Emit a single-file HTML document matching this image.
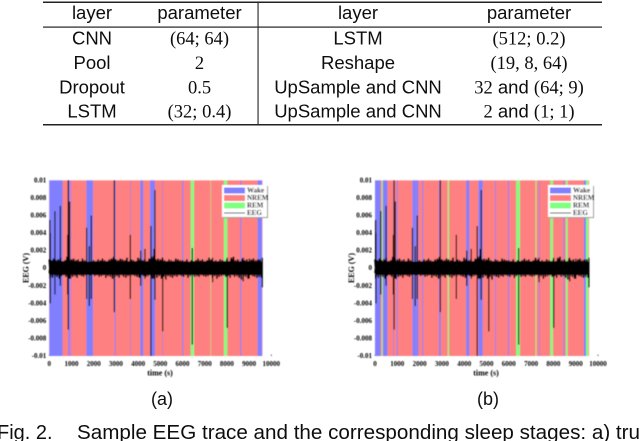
<!DOCTYPE html>
<html>
<head>
<meta charset="utf-8">
<title>Sample EEG trace and sleep stages</title>
<style>
html,body{margin:0;padding:0;background:#fff;width:640px;height:441px;overflow:hidden}
svg{display:block}
.sans{font-family:"Liberation Sans",sans-serif;fill:#111}
.serif{font-family:"Liberation Serif",serif;fill:#111}
.cell{font-size:18.5px;text-anchor:middle}
.tick{font-family:"Liberation Serif",serif;font-size:7px;font-weight:bold;fill:#000}
.title{font-size:8px}
</style>
</head>
<body>
<svg id="page" xmlns="http://www.w3.org/2000/svg" width="640" height="441" viewBox="0 0 640 441">
<defs>
<filter id="soft" x="-5%" y="-5%" width="110%" height="110%"><feGaussianBlur stdDeviation="0.4"/></filter>
<filter id="softer" x="-5%" y="-5%" width="110%" height="110%"><feGaussianBlur stdDeviation="0.3"/></filter>
</defs>
<g filter="url(#softer)">
<rect x="43" y="1.5" width="559" height="1.5" fill="#222"/>
<rect x="43" y="26.5" width="559" height="1.2" fill="#222"/>
<rect x="43" y="124" width="559" height="1.5" fill="#222"/>
<rect x="257.5" y="2" width="1.1" height="122" fill="#222"/>
<text class="sans cell" x="92" y="19">layer</text>
<text class="sans cell" x="199.5" y="19">parameter</text>
<text class="sans cell" x="358" y="19">layer</text>
<text class="sans cell" x="529" y="19">parameter</text>
<text class="sans cell" x="92" y="44.5">CNN</text>
<text class="serif cell" x="199.5" y="44.5">(64; 64)</text>
<text class="sans cell" x="358" y="44.5">LSTM</text>
<text class="serif cell" x="529" y="44.5">(512; 0.2)</text>
<text class="sans cell" x="92" y="69">Pool</text>
<text class="serif cell" x="199.5" y="69">2</text>
<text class="sans cell" x="358" y="69">Reshape</text>
<text class="serif cell" x="529" y="69">(19, 8, 64)</text>
<text class="sans cell" x="92" y="93.5">Dropout</text>
<text class="serif cell" x="199.5" y="93.5">0.5</text>
<text class="sans cell" x="358" y="93.5">UpSample and CNN</text>
<text class="cell" x="529" y="93.5"><tspan class="serif">32</tspan><tspan class="sans"> and </tspan><tspan class="serif">(64; 9)</tspan></text>
<text class="sans cell" x="92" y="117.5">LSTM</text>
<text class="serif cell" x="199.5" y="117.5">(32; 0.4)</text>
<text class="sans cell" x="358" y="117.5">UpSample and CNN</text>
<text class="cell" x="529" y="117.5"><tspan class="serif">2</tspan><tspan class="sans"> and </tspan><tspan class="serif">(1; 1)</tspan></text>
</g>
<g id="chart-a" filter="url(#soft)"></g>
<g id="chart-b" filter="url(#soft)"></g>
<g filter="url(#softer)">
<text class="sans" font-size="18" text-anchor="middle" x="162" y="405">(a)</text>
<text class="sans" font-size="18" text-anchor="middle" x="488" y="405">(b)</text>
<text class="sans" font-size="20" x="-3" y="439">Fig. 2.</text>
<text class="sans" font-size="20" x="77" y="439" textLength="563" lengthAdjust="spacingAndGlyphs">Sample EEG trace and the corresponding sleep stages: a) tru</text>
</g>
</svg>
<script>
// Shared EEG trace: envelope per 100 s bin, in millivolts
const eegUpper = [1.0,0.9,1.1,0.9,1.0,1.2,0.8,0.9,1.3,1.2,1.0,1.1,0.9,1.0,0.8,1.1,0.9,0.7,0.7,0.8,0.9,0.8,1.0,0.9,1.1,0.9,0.8,1.0,1.1,1.3,1.0,0.9,1.1,1.0,0.9,1.2,0.8,1.0,0.9,0.8,1.2,1.1,0.9,1.0,0.8,1.1,1.3,1.4,1.0,1.1,1.0,1.2,0.9,0.8,1.0,0.9,0.8,1.1,1.0,0.9,0.9,0.8,1.0,0.7,0.9,0.8,0.9,1.1,0.9,1.0,0.8,0.9,1.2,1.0,0.8,0.9,0.8,1.0,0.9,0.8,1.0,0.8,1.2,1.3,0.9,1.0,0.8,1.1,0.9,1.0,0.8,1.0,1.1,0.9,1.0,1.0];
const eegLower = [-1.0,-1.1,-0.9,-1.0,-1.2,-0.9,-0.8,-1.0,-1.1,-1.2,-1.0,-0.9,-1.1,-0.8,-0.9,-1.0,-0.8,-0.7,-0.8,-0.7,-0.9,-0.8,-1.0,-0.9,-0.8,-1.1,-0.9,-1.0,-1.2,-1.0,-0.9,-1.1,-0.8,-1.0,-1.1,-0.9,-1.0,-0.8,-0.9,-1.0,-1.1,-0.8,-0.9,-1.0,-0.9,-0.8,-1.2,-1.0,-1.1,-0.9,-1.2,-1.0,-1.3,-0.9,-1.0,-1.1,-0.9,-1.0,-0.8,-0.9,-1.0,-0.8,-1.1,-0.9,-0.8,-1.0,-0.9,-1.0,-0.8,-0.9,-1.0,-0.9,-0.8,-1.1,-0.9,-1.2,-1.0,-0.9,-0.8,-1.0,-0.9,-1.1,-0.8,-1.0,-0.9,-1.1,-1.3,-0.9,-1.0,-1.2,-0.8,-0.9,-1.0,-1.1,-1.0,-1.1];

// Large excursions of the trace: time (s), peak and trough (mV)
const spikeTimes = [30,45,255,495,825,855,915,1680,1800,1890,2930,3650,4115,4310,4580,4716,4760,5106,6441,7356,8016,8736,9006,9591];
const spikeUpper = [5.5,4.0,6.5,7.1,3.8,10,7.6,4.6,2.5,6.0,10,3.8,2.0,2.2,4.8,2.2,8.9,1.2,2.3,1.2,1.2,1.2,1.1,1.2];
const spikeLower = [-1.2,-4.0,-3.0,-2.0,-3.0,-7.0,-1.2,-3.5,-4.3,-3.5,-5.0,-3.5,-2.0,-1.2,-10,-1.2,-3.6,-7.2,-8.7,-1.6,-6.8,-1.5,-1.2,-2.2];

// Sleep stages: segments overlaying NREM background. 0 = Wake, 2 = REM
const stagesAStart = [0,855,975,1670,2945,3650,4100,4536,5090,5990,6370,7260,7866,8600,9380];
const stagesAEnd = [600,930,1000,1970,2990,3675,4230,4760,5115,6040,6520,7280,8016,8650,9580];
const stagesAKind = [0,0,0,0,0,0,0,0,0,0,2,2,2,0,0];

const stagesBStart = [0,300,360,820,975,1680,1850,2120,2870,3260,4090,4640,5390,5960,6330,7200,7360,7860,8450,8560,9370,9460];
const stagesBEnd = [250,345,560,850,1020,1840,1950,2165,2950,3320,4230,4830,5430,6010,6500,7240,7395,7980,8495,8640,9460,9570];
const stagesBKind = [0,2,0,0,0,0,0,0,0,2,0,0,0,0,2,2,0,2,0,2,0,2];

// Axis ticks and legend
const xTicks = [0,1000,2000,3000,4000,5000,6000,7000,8000,9000,10000];
const yTicks = [0.01,0.008,0.006,0.004,0.002,0,-0.002,-0.004,-0.006,-0.008,-0.01];
const yTickLabels = ['0.01','0.008','0.006','0.004','0.002','0','-0.002','-0.004','-0.006','-0.008','-0.01'];
const legendLabels = ['Wake','NREM','REM','EEG'];
const stageColors = ['#8080ff','#ff8080','#80ff80'];
const binSeconds = 100;
const endSeconds = 9600;

const SVGNS = 'http://www.w3.org/2000/svg';
function mk(parent, tag, attrs){
  const el = document.createElementNS(SVGNS, tag);
  for (const k in attrs) el.setAttribute(k, attrs[k]);
  parent.appendChild(el);
  return el;
}
function drawChart(rootId, x0, pxPer1000, starts, ends, kinds, legendX, labelX){
  const root = document.getElementById(rootId);
  const xScale = t => x0 + t * pxPer1000 / 1000;
  const yScale = v => 268.2 - v * 8780;

  xTicks.forEach(function(t){
    const tick = mk(root, 'line', {x1:xScale(t), x2:xScale(t), y1:354.5, y2:356, stroke:'#000', 'stroke-width':0.6});
    
    
    const lab = mk(root, 'text', {x:xScale(t), y:366, 'text-anchor':'middle', class:'tick'});
    
    
    lab.textContent = String(t);
  });
  yTicks.forEach(function(v, i){
    const lab = mk(root, 'text', {x:x0 - 3, y:yScale(v) + 2, 'text-anchor':'end', class:'tick'});
    
    
    lab.textContent = yTickLabels[i];
  });

  const bg = mk(root, 'rect', {x:xScale(0), y:yScale(0.01), width:xScale(endSeconds) - xScale(0), height:yScale(-0.01) - yScale(0.01), fill:stageColors[1]});
  
  
  starts.forEach(function(s, i){
    const seg = mk(root, 'rect', {x:xScale(s), y:yScale(0.01), width:xScale(ends[i]) - xScale(s), height:yScale(-0.01) - yScale(0.01), fill:stageColors[kinds[i]]});
    
    
  });

  let d = '';
  eegUpper.forEach(function(u, i){
    const x = xScale(i * binSeconds);
    const xm = xScale((i + 0.5) * binSeconds);
    d += (i ? 'L' : 'M') + x.toFixed(2) + ' ' + yScale(u / 1000).toFixed(2);
    d += 'L' + xm.toFixed(2) + ' ' + yScale(eegLower[i] / 1000).toFixed(2);
    d += 'L' + xm.toFixed(2) + ' ' + yScale(0.55 * u / 1000).toFixed(2);
    d += 'L' + x.toFixed(2) + ' ' + yScale(0.55 * eegLower[i] / 1000).toFixed(2);
  });
  const trace = mk(root, 'path', {d:d, fill:'none', stroke:'#000', 'stroke-width':1.6});
  
  
  const core = mk(root, 'rect', {x:xScale(0), y:yScale(0.00075), width:xScale(endSeconds) - xScale(0), height:yScale(-0.00075) - yScale(0.00075), fill:'#000'});
  
  
  spikeTimes.forEach(function(t, i){
    const sp = mk(root, 'line', {x1:xScale(t), x2:xScale(t), y1:yScale(spikeUpper[i] / 1000), y2:yScale(spikeLower[i] / 1000), stroke:'#000', 'stroke-width':1.2});
    
    
  });

  const shadow = mk(root, 'rect', {x:legendX + 1, y:186, width:45, height:32, fill:'#999'});
  
  
  const box = mk(root, 'rect', {x:legendX, y:185, width:45, height:32, fill:'#fff'});
  
  
  legendLabels.forEach(function(name, i){
    const rowY = 190.5 + i * 7.5;
    if (i < 3) {
      const patch = mk(root, 'rect', {x:legendX + 2, y:rowY - 3, width:21, height:6, fill:stageColors[i]});
      
      
    } else {
      const ln = mk(root, 'line', {x1:legendX + 2, x2:legendX + 23, y1:rowY, y2:rowY, stroke:'#000', 'stroke-width':0.8});
      
      
    }
    const lab = mk(root, 'text', {x:legendX + 25, y:rowY + 2, class:'tick'});
    
    
    lab.textContent = name;
  });

  const xt = mk(root, 'text', {x:labelX, y:375.5, 'text-anchor':'middle', class:'tick title'});
  
  
  xt.textContent = 'time (s)';
  const yx = x0 - 21;
  const yt = mk(root, 'text', {x:yx, y:268, 'text-anchor':'middle', class:'tick title', transform:'rotate(-90 ' + yx + ' 268)'});
  
  
  yt.textContent = 'EEG (V)';
}
drawChart('chart-a', 49.3, 22.2, stagesAStart, stagesAEnd, stagesAKind, 222, 160);
drawChart('chart-b', 375, 22.3, stagesBStart, stagesBEnd, stagesBKind, 548, 486);
</script>
</body>
</html>
